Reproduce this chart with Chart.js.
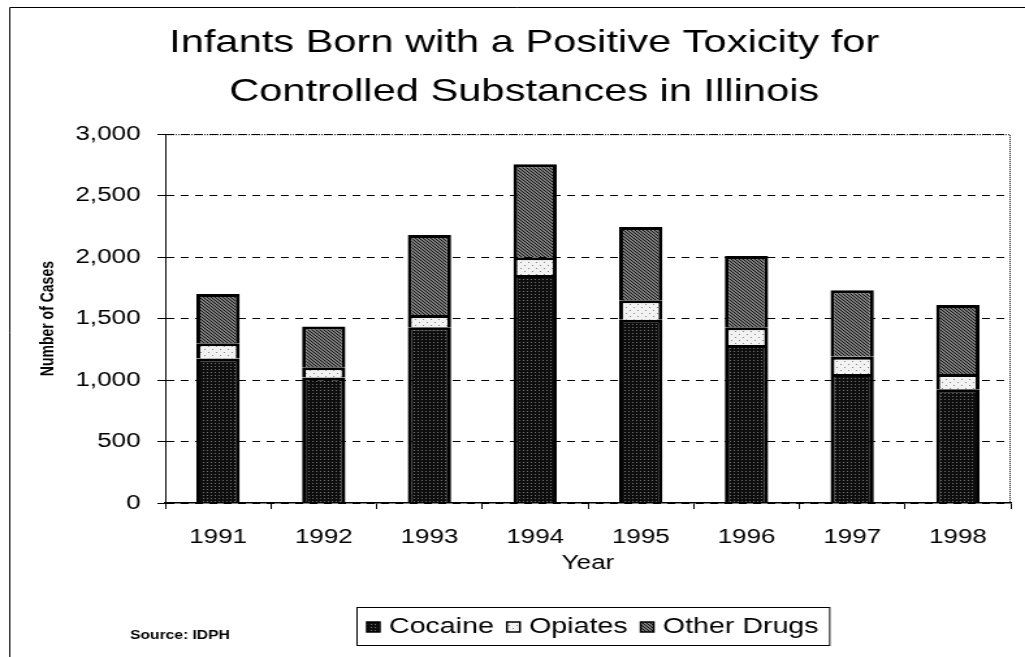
<!DOCTYPE html>
<html>
<head>
<meta charset="utf-8">
<script src="https://cdn.jsdelivr.net/npm/chart.js@4"></script>
<style>
  html, body { margin: 0; padding: 0; background: #fff; overflow: hidden; }
  /* the scanned original is stretched sideways, so the canvas is drawn narrow and widened */
  #toxChart { display: block; width: 1025px; height: 657px; }
</style>
</head>
<body>
<canvas id="toxChart" width="788" height="657" style="width:1025px;height:657px"></canvas>
<script>
// data
const years = ['1991', '1992', '1993', '1994', '1995', '1996', '1997', '1998'];
const cocaine = [1175, 1020, 1430, 1855, 1490, 1285, 1050, 925];
const opiates = [125, 85, 100, 145, 160, 145, 140, 125];
const otherDrugs = [400, 330, 650, 755, 595, 580, 540, 560];
const yTicks = [0, 500, 1000, 1500, 2000, 2500, 3000];

const FONT = '"Liberation Sans", Arial, sans-serif';
const ctx = document.getElementById('toxChart').getContext('2d');

// small patterns, like the printed fills
function makePattern(kind) {
  const c = document.createElement('canvas');
  c.width = 6; c.height = 6;
  const g = c.getContext('2d');
  if (kind === 'cocaine') {
    g.fillStyle = '#0e0e0e'; g.fillRect(0, 0, 6, 6);
    g.fillStyle = '#6e6e6e';
    g.fillRect(0, 0, 1, 1); g.fillRect(3, 0, 1, 1);
    g.fillRect(0, 3, 1, 1); g.fillRect(3, 3, 1, 1);
  } else if (kind === 'opiates') {
    g.fillStyle = '#f2f2f2'; g.fillRect(0, 0, 6, 6);
    g.fillStyle = '#888';
    g.fillRect(1, 1, 1, 1); g.fillRect(4, 4, 1, 1);
  } else {
    g.fillStyle = '#7c7c7c'; g.fillRect(0, 0, 6, 6);
    g.fillStyle = '#141414';
    for (let i = 0; i < 6; i++) {
      g.fillRect(i, i, 1, 1);
      g.fillRect((i + 3) % 6, i, 1, 1);
    }
  }
  return ctx.createPattern(c, 'repeat');
}

const fills = [makePattern('cocaine'), makePattern('opiates'), makePattern('other')];
const names = ['Cocaine', 'Opiates', 'Other Drugs'];

const extras = {
  id: 'extras',
  beforeDraw(chart) {
    const c = chart.ctx;
    c.save();
    c.strokeStyle = '#000';
    c.lineWidth = 1;
    c.beginPath();
    c.moveTo(7.5, chart.height); c.lineTo(7.5, 7.5); c.lineTo(chart.width, 7.5);
    c.stroke();
    c.restore();
  },
  afterDraw(chart) {
    const c = chart.ctx;
    const a = chart.chartArea;
    c.save();
    // dotted top and right edge of the plot
    c.strokeStyle = '#000';
    c.lineWidth = 1;
    c.setLineDash([1, 1]);
    c.beginPath();
    c.moveTo(a.left, a.top + 0.5); c.lineTo(a.right - 0.5, a.top + 0.5); c.lineTo(a.right - 0.5, a.bottom);
    c.stroke();
    c.setLineDash([]);

    // legend in a box
    c.font = '22px ' + FONT;
    c.textBaseline = 'middle';
    const box = 10, gap = 7, sep = 10, padX = 8;
    const widths = names.map(n => c.measureText(n).width);
    let total = sep * (names.length - 1);
    widths.forEach(w => { total += box + gap + w; });
    const cx = (a.left + a.right) / 2 + 4;
    const bx = Math.round(cx - total / 2 - padX);
    const by = 607, bh = 38;
    c.lineWidth = 1;
    c.strokeRect(bx + 0.5, by + 0.5, total + padX * 2, bh);
    let x = bx + padX;
    const my = by + bh / 2 + 1;
    names.forEach((n, i) => {
      c.fillStyle = fills[i];
      c.fillRect(x, my - box / 2, box, box);
      c.lineWidth = 1.5;
      c.strokeRect(x, my - box / 2, box, box);
      c.fillStyle = '#000';
      c.fillText(n, x + box + gap, my);
      x += box + gap + widths[i] + sep;
    });

    // source note
    c.font = 'bold 12px ' + FONT;
    c.fillStyle = '#000';
    c.fillText('Source: IDPH', 100, 636);
    c.restore();
  }
};

new Chart(ctx, {
  type: 'bar',
  data: {
    labels: years,
    datasets: [
      { label: names[0], data: cocaine, backgroundColor: fills[0] },
      { label: names[1], data: opiates, backgroundColor: fills[1] },
      { label: names[2], data: otherDrugs, backgroundColor: fills[2] }
    ].map(d => Object.assign(d, {
      borderColor: '#000',
      borderWidth: 3,
      barPercentage: 0.41,
      categoryPercentage: 1
    }))
  },
  options: {
    responsive: false,
    animation: false,
    layout: { padding: { top: 8, left: 29, right: 11, bottom: 80 } },
    plugins: {
      legend: { display: false },
      tooltip: { enabled: false },
      title: {
        display: true,
        text: ['Infants Born with a Positive Toxicity for', 'Controlled Substances in Illinois'],
        color: '#000',
        font: { family: FONT, size: 32, weight: 'normal', lineHeight: 1.55 },
        padding: { top: 10, bottom: 17 }
      }
    },
    scales: {
      x: {
        stacked: true,
        afterFit: s => { s.height = 74; },
        grid: { display: true, drawOnChartArea: false, offset: true, color: '#000', tickLength: 6 },
        border: { display: true, color: '#000', width: 1.5 },
        ticks: {
          color: '#000',
          padding: 16,
          font: { family: FONT, size: 20 }
        },
        title: {
          display: true,
          text: 'Year',
          color: '#000',
          padding: { top: 2, bottom: 2 },
          font: { family: FONT, size: 20 }
        }
      },
      y: {
        stacked: true,
        min: 0,
        max: 3000,
        afterFit: s => { s.width = 98; },
        afterBuildTicks: s => { s.ticks = yTicks.map(v => ({ value: v })); },
        grid: { color: '#000', lineWidth: 1, tickLength: 6 },
        border: { display: true, color: '#000', width: 1, dash: [6, 5] },
        ticks: {
          color: '#000',
          padding: 13,
          font: { family: FONT, size: 20 },
          callback: v => v.toLocaleString('en-US')
        },
        title: {
          display: true,
          text: 'Number of Cases',
          color: '#000',
          padding: { top: 0, bottom: 0 },
          font: { family: FONT, size: 14, weight: 'bold' }
        }
      }
    }
  },
  plugins: [extras]
});
</script>
</body>
</html>
